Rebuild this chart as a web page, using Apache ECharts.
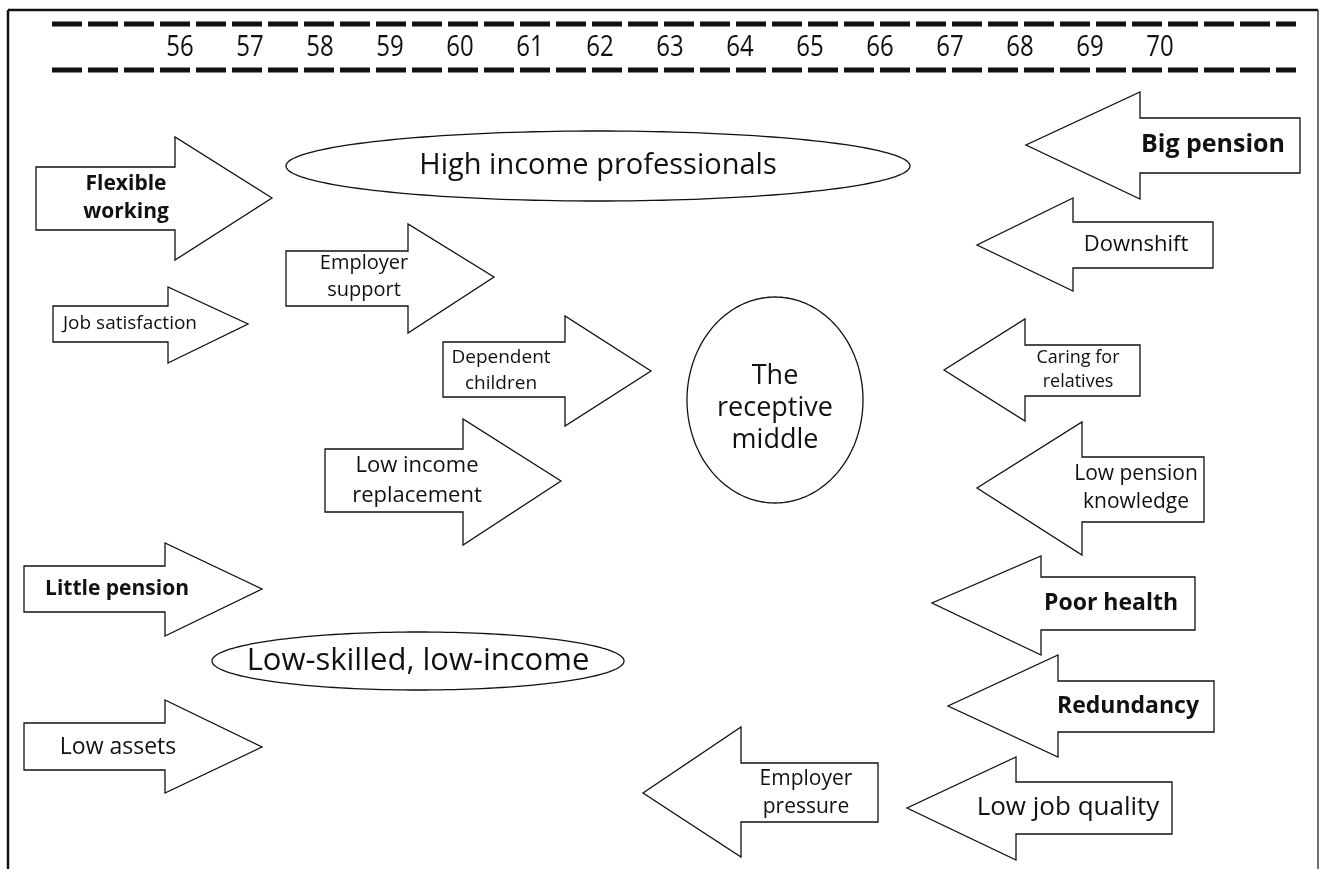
<!DOCTYPE html>
<html>
<head>
<meta charset="utf-8">
<script src="https://cdn.jsdelivr.net/npm/echarts@6/dist/echarts.min.js"></script>
<style>
  html, body { margin: 0; padding: 0; background: #fff; }
  #chart { width: 1321px; height: 869px; }
</style>
</head>
<body>
<div id="chart"></div>
<script>
// ruler of ages along the top
var ages = [56, 57, 58, 59, 60, 61, 62, 63, 64, 65, 66, 67, 68, 69, 70];

// arrows (right-pointing ones first, then left-pointing)
var arrowLabels = ['Flexible\nworking', 'Job satisfaction', 'Employer\nsupport', 'Dependent\nchildren',
  'Low income\nreplacement', 'Little pension', 'Low assets',
  'Big pension', 'Downshift', 'Caring for\nrelatives', 'Low pension\nknowledge', 'Poor health',
  'Redundancy', 'Low job quality', 'Employer\npressure'];
var arrowTipX   = [272, 248, 494, 651, 561, 262, 262, 1026, 977, 944, 977, 932, 948, 907, 643];
var arrowTipY   = [198, 324, 277, 371, 481, 589, 747, 145, 245, 370, 488, 603, 706, 808, 793];
var arrowHeadX  = [175, 168, 408, 565, 463, 165, 165, 1140, 1073, 1025, 1082, 1041, 1058, 1016, 741];
var arrowHeadY1 = [137, 287, 224, 316, 419, 543, 700, 92, 198, 319, 422, 556, 655, 757, 727];
var arrowHeadY2 = [260, 363, 333, 426, 545, 636, 793, 199, 291, 421, 555, 655, 757, 860, 857];
var arrowTailX  = [36, 53, 286, 443, 325, 24, 24, 1300, 1213, 1140, 1204, 1195, 1214, 1172, 878];
var arrowBodyY1 = [167, 306, 251, 342, 449, 566, 723, 118, 222, 345, 457, 577, 681, 782, 763];
var arrowBodyY2 = [230, 342, 306, 397, 512, 612, 770, 173, 268, 396, 522, 630, 732, 834, 822];
var arrowTextX  = [126, 130, 364, 501, 417, 117, 118, 1213, 1136, 1078, 1136, 1111, 1128, 1068, 806];
var arrowFont   = [21, 19, 20, 19, 22, 21, 23, 25, 22, 18, 21, 23, 23, 26, 21];
var arrowBold   = [1, 0, 0, 0, 0, 1, 0, 1, 0, 0, 0, 1, 1, 0, 0];

// groups drawn as ellipses
var groupLabels = ['High income professionals', 'Low-skilled, low-income', 'The\nreceptive\nmiddle'];
var groupCX = [598, 418, 775];
var groupCY = [166, 661, 400];
var groupRX = [312, 206, 88];
var groupRY = [35, 29, 103];
var groupFont = [29, 31, 27];

var chart = echarts.init(document.getElementById('chart'));

function renderArrow(params, api) {
  var i = params.dataIndex;
  var tip = api.coord([api.value(0), api.value(1)]);
  var h1 = api.coord([api.value(2), api.value(3)]);
  var h2 = api.coord([api.value(2), api.value(4)]);
  var b1 = api.coord([api.value(2), api.value(6)]);
  var b2 = api.coord([api.value(2), api.value(7)]);
  var t1 = api.coord([api.value(5), api.value(6)]);
  var t2 = api.coord([api.value(5), api.value(7)]);
  var txt = api.coord([api.value(8), api.value(1)]);
  return {
    type: 'group',
    children: [{
      type: 'polygon',
      shape: { points: [t1, b1, h1, tip, h2, b2, t2] },
      style: { fill: '#fff', stroke: '#111', lineWidth: 1.3 }
    }, {
      type: 'text',
      style: {
        text: arrowLabels[i],
        x: txt[0], y: txt[1],
        align: 'center', verticalAlign: 'middle',
        fontFamily: 'Open Sans',
        fontSize: arrowFont[i],
        fontWeight: arrowBold[i] ? 'bold' : 'normal',
        lineHeight: Math.round(arrowFont[i] * 1.35),
        fill: '#111'
      }
    }]
  };
}

function renderGroup(params, api) {
  var i = params.dataIndex;
  var cx = api.value(0), cy = api.value(1), rx = api.value(2), ry = api.value(3);
  var pts = [];
  for (var k = 0; k < 180; k++) {
    var a = k / 180 * Math.PI * 2;
    pts.push(api.coord([cx + rx * Math.cos(a), cy + ry * Math.sin(a)]));
  }
  var c = api.coord([cx, cy + (i === 2 ? 8 : 0)]);
  return {
    type: 'group',
    children: [{
      type: 'polygon',
      shape: { points: pts },
      style: { fill: 'none', stroke: '#111', lineWidth: 1.3 }
    }, {
      type: 'text',
      style: {
        text: groupLabels[i],
        x: c[0], y: c[1],
        align: 'center', verticalAlign: 'middle',
        fontFamily: 'Open Sans',
        fontSize: groupFont[i],
        lineHeight: Math.round(groupFont[i] * 1.18),
        fill: '#111'
      }
    }]
  };
}

// age labels are narrow and tall in the original, so squeeze them sideways
function renderAge(params, api) {
  var p = api.coord([api.value(0), api.value(1)]);
  return {
    type: 'text',
    x: p[0], y: p[1],
    scaleX: 0.8,
    style: {
      text: String(api.value(2)),
      x: 0, y: 0,
      align: 'center', verticalAlign: 'middle',
      fontFamily: 'Open Sans',
      fontSize: 30,
      fill: '#111'
    }
  };
}

var arrowData = arrowLabels.map(function (l, i) {
  return [arrowTipX[i], arrowTipY[i], arrowHeadX[i], arrowHeadY1[i], arrowHeadY2[i],
    arrowTailX[i], arrowBodyY1[i], arrowBodyY2[i], arrowTextX[i]];
});
var groupData = groupLabels.map(function (l, i) {
  return [groupCX[i], groupCY[i], groupRX[i], groupRY[i]];
});
// ruler: ages are 70px apart starting at x=180
var ageData = ages.map(function (a, i) { return [180 + i * 70, 47, a]; });

function plainLine(points, width, type, color) {
  return {
    type: 'line', data: points, symbol: 'none', silent: true,
    lineStyle: { width: width, type: type, color: color }
  };
}

chart.setOption({
  animation: false,
  backgroundColor: '#fff',
  grid: { left: 0, right: 0, top: 0, bottom: 0 },
  xAxis: { type: 'value', min: 0, max: 1321, show: false },
  yAxis: { type: 'value', min: 0, max: 869, inverse: true, show: false },
  series: [
    // frame
    plainLine([[8, 10], [1318, 10]], 2.5, 'solid', '#111'),
    plainLine([[8, 10], [8, 869]], 2.5, 'solid', '#111'),
    plainLine([[1318, 10], [1318, 869]], 1.3, 'solid', '#222'),
    // dashed ruler lines
    plainLine([[52, 24], [1296, 24]], 5, [30, 6], '#111'),
    plainLine([[52, 70], [1296, 70]], 5, [30, 6], '#111'),
    { type: 'custom', data: ageData, renderItem: renderAge, silent: true },
    { type: 'custom', data: groupData, renderItem: renderGroup, silent: true },
    { type: 'custom', data: arrowData, renderItem: renderArrow, silent: true }
  ]
});
</script>
</body>
</html>
